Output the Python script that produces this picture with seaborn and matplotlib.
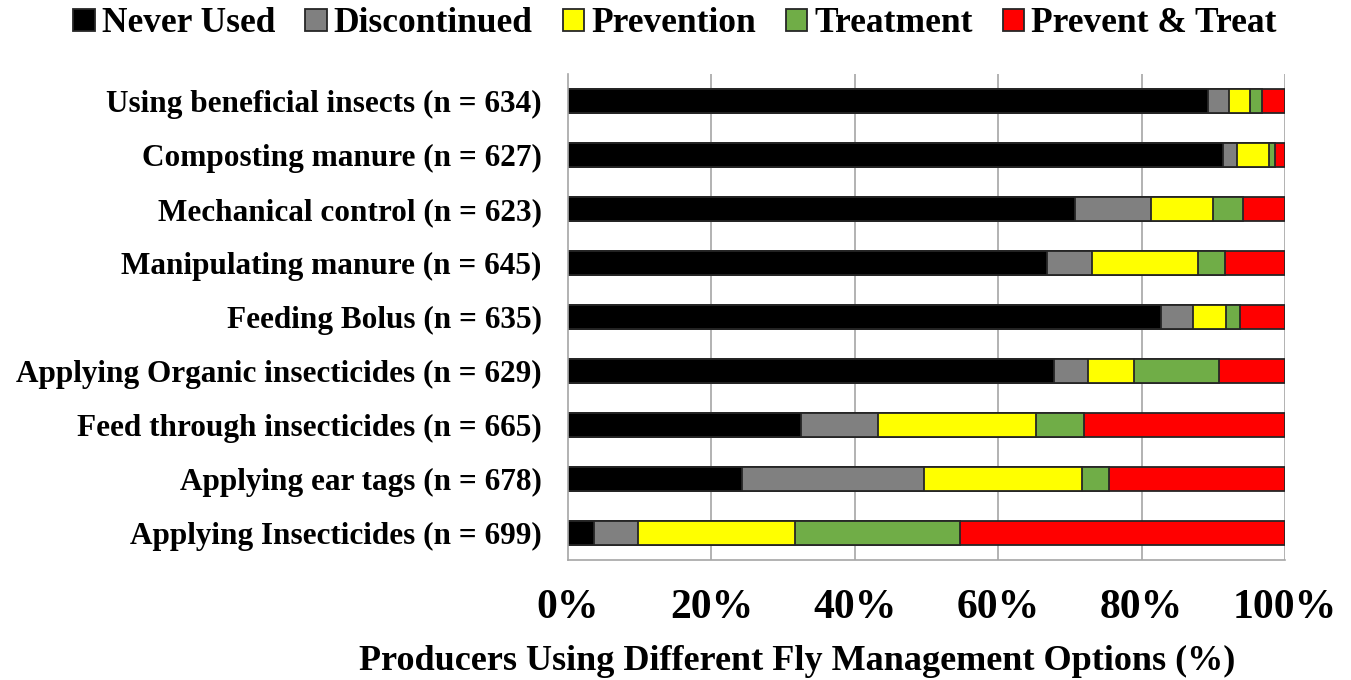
import numpy as np
import pandas as pd
import matplotlib
matplotlib.use("Agg")
import matplotlib.pyplot as plt
import seaborn as sns
from matplotlib.patches import Patch

categories = [
    "Using beneficial insects (n = 634)",
    "Composting manure (n = 627)",
    "Mechanical control (n = 623)",
    "Manipulating manure (n = 645)",
    "Feeding Bolus (n = 635)",
    "Applying Organic insecticides (n = 629)",
    "Feed through insecticides (n = 665)",
    "Applying ear tags (n = 678)",
    "Applying Insecticides (n = 699)",
]

series = ["Never Used", "Discontinued", "Prevention", "Treatment", "Prevent & Treat"]
colors = ["#000000", "#808080", "#FFFF00", "#70AD47", "#FF0000"]

never_used = [89.2, 91.4, 70.7, 66.8, 82.7, 67.8, 32.5, 24.2, 3.6]
discontinued = [3.0, 1.9, 10.6, 6.3, 4.5, 4.7, 10.8, 25.4, 6.2]
prevention = [2.9, 4.4, 8.7, 14.8, 4.6, 6.5, 22.0, 22.1, 21.8]
treatment = [1.7, 0.9, 4.2, 3.7, 1.9, 11.8, 6.6, 3.8, 23.1]
prevent_treat = [3.2, 1.4, 5.8, 8.4, 6.3, 9.2, 28.1, 24.5, 45.3]

xticks = [0, 20, 40, 60, 80, 100]
xtick_labels = ["0%", "20%", "40%", "60%", "80%", "100%"]

sns.set_style("white")
plt.rcParams["font.family"] = ["Liberation Serif", "DejaVu Serif"]
plt.rcParams["font.weight"] = "bold"
plt.rcParams["text.color"] = "black"
plt.rcParams["xtick.color"] = "black"
plt.rcParams["ytick.color"] = "black"

values = np.array([never_used, discontinued, prevention, treatment, prevent_treat])
cum = np.cumsum(values, axis=0)

df = pd.DataFrame({"category": categories})
for name, row in zip(series, cum):
    df[name] = row

fig = plt.figure(figsize=(13.51, 6.8), dpi=100)
ax = fig.add_axes([568 / 1351, 1 - 560 / 680, (1285 - 568) / 1351, (560 - 74) / 680])

ax.set_axisbelow(True)
for x in xticks[1:]:
    ax.axvline(x, color="#A6A6A6", lw=1.2, zorder=0)

# stacked bars: draw cumulative totals from the longest down
for name, color in list(zip(series, colors))[::-1]:
    sns.barplot(
        data=df,
        x=name,
        y="category",
        order=categories,
        color=color,
        orient="h",
        width=0.45,
        edgecolor="#262626",
        linewidth=1.3,
        saturation=1,
        ax=ax,
    )

ax.set_xlim(0, 100)
ax.set_ylim(8.5, -0.5)
ax.set_xticks(xticks)
ax.set_xticklabels(xtick_labels, fontsize=30, fontweight="bold")
ax.set_yticks(range(len(categories)))
ax.set_yticklabels(categories, fontsize=22.5, fontweight="bold")
ax.set_yticks(np.arange(-0.5, len(categories), 1), minor=True)
ax.tick_params(axis="y", which="major", length=0, pad=19)
ax.tick_params(axis="y", which="minor", length=7, color="#A6A6A6", width=1.2, direction="out")
ax.tick_params(axis="x", length=9, color="#A6A6A6", width=1.2, direction="out", pad=12)

ax.set_xlabel("")
ax.set_ylabel("")
fig.text(797 / 1351, 1 - 661 / 680,
         "Producers Using Different Fly Management Options (%)",
         fontsize=26, fontweight="bold", ha="center", va="center")

for side in ["top", "right"]:
    ax.spines[side].set_visible(False)
for side in ["left", "bottom"]:
    ax.spines[side].set_color("#A6A6A6")
    ax.spines[side].set_linewidth(1.2)

handles = [Patch(facecolor=c, edgecolor="#262626", linewidth=1.3) for c in colors]
fig.legend(
    handles,
    series,
    loc="center",
    bbox_to_anchor=(675 / 1351, 1 - 24 / 680),
    ncol=5,
    frameon=False,
    handlelength=0.6,
    handleheight=0.6,
    handletextpad=0.2,
    columnspacing=0.85,
    borderpad=0,
    prop={"weight": "bold", "size": 25.5},
)

fig.savefig("out.png", dpi=100)
